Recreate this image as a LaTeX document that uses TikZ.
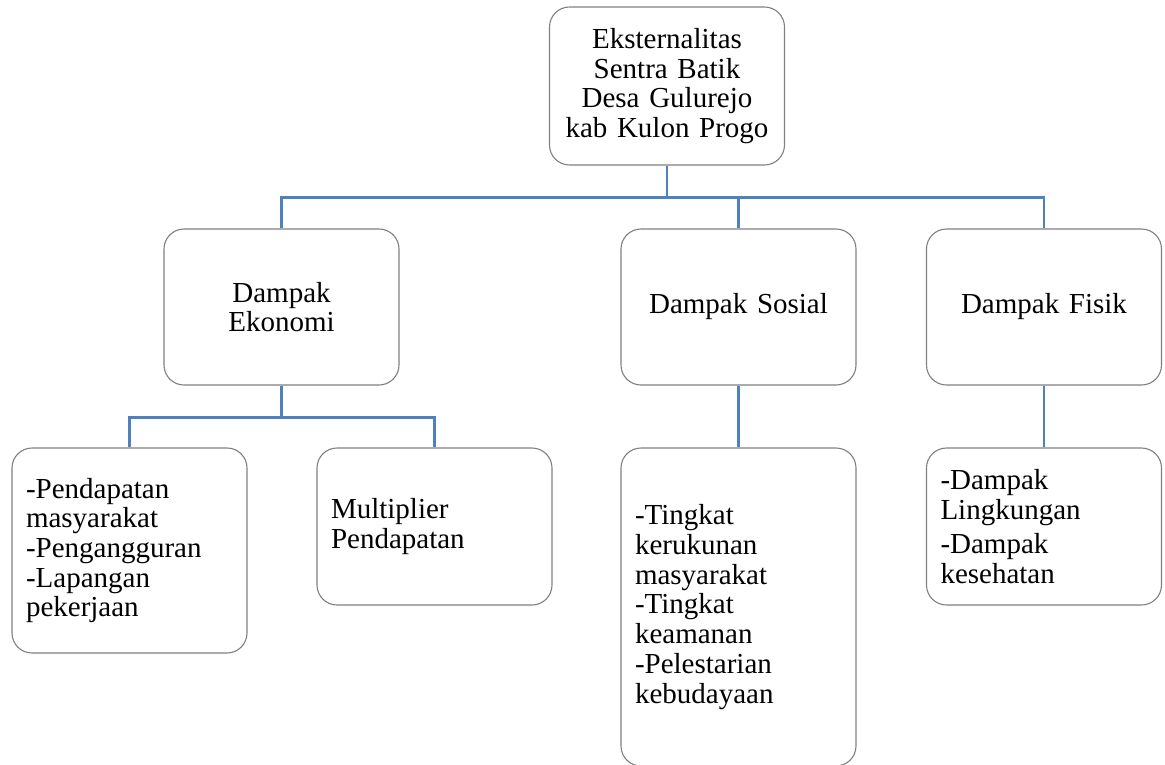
\documentclass[tikz,border=0pt]{standalone}
\usepackage{fontspec}
\setmainfont{Liberation Serif}
\usepackage{tikz}
\usetikzlibrary{positioning,calc}
\definecolor{linkblue}{RGB}{79,129,189}
\definecolor{boxgray}{RGB}{128,128,128}
\begin{document}
\begin{tikzpicture}[x=1pt,y=-1pt,
      box/.style={draw=boxgray, line width=1.1pt, rounded corners=20pt,
        inner xsep=14pt, inner ysep=0pt, text width=207pt, minimum width=235pt,
        font=\fontsize{29}{29.7}\selectfont},
      link/.style={draw=linkblue, line width=2.9pt}]
    \useasboundingbox (0,0) rectangle (1165,764);
    \node[box, align=center, minimum height=158pt] (ekst) at (667,86)
      {Eksternalitas\\ Sentra Batik\\ Desa Gulurejo\\ kab Kulon Progo};
    \node[box, align=center, minimum height=156pt] (eko) at (281.5,307) {Dampak\\ Ekonomi};
    \node[box, align=center, minimum height=156pt] (sos) at (738.5,307) {Dampak Sosial};
    \node[box, align=center, minimum height=156pt] (fis) at (1044,307) {Dampak Fisik};
    \node[box, align=left, minimum height=205pt] (ekoa) at (129.5,550.5)
      {-Pendapatan\\ masyarakat\\ -Pengangguran\\ -Lapangan\\ pekerjaan};
    \node[box, align=left, minimum height=157pt] (ekob) at (434.5,526.5)
      {Multiplier\\ Pendapatan};
    \node[box, align=left, minimum height=318pt] (sosa) at (738.5,607)
      {-Tingkat\\ kerukunan\\ masyarakat\\ -Tingkat\\ keamanan\\ -Pelestarian\\ kebudayaan};
    \node[box, align=left, minimum height=157pt] (fisa) at (1044,526.5)
      {-Dampak\\ Lingkungan\\[5pt] -Dampak\\ kesehatan};
    \draw[link] (ekst.south) -- ++(0,32) -| (eko.north);
    \draw[link] (ekst.south) -- ++(0,32) -| (sos.north);
    \draw[link] (ekst.south) -- ++(0,32) -| (fis.north);
    \draw[link] (eko.south) -- ++(0,32) -| (ekoa.north);
    \draw[link] (eko.south) -- ++(0,32) -| (ekob.north);
    \draw[link] (sos.south) -- (sosa.north);
    \draw[link] (fis.south) -- (fisa.north);
  \end{tikzpicture}
\end{document}
